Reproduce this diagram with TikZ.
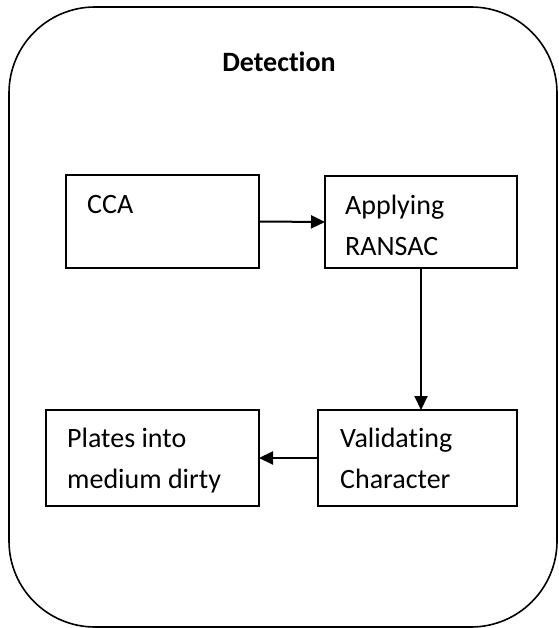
\documentclass[tikz,border=0pt]{standalone}
\usepackage{fontspec}
\setmainfont{Carlito}[Ligatures=NoCommon]
\usetikzlibrary{arrows.meta}
\tikzset{
  box/.style={draw, line width=2pt, inner sep=0pt, outer sep=0pt},
  label text/.style={inner sep=0pt, anchor=base west, align=left,
    font=\fontsize{28}{41}\selectfont},
  flow/.style={line width=2pt, -{Triangle[length=14pt,width=13pt]}},
}
\begin{document}
\begin{tikzpicture}[x=1pt,y=-1pt]
\useasboundingbox (0,0) rectangle (558,628);
% outer container
\draw[line width=1.6pt, rounded corners=86pt] (9,7) rectangle (557,627);
\node[font=\fontsize{28}{34}\selectfont\bfseries, inner sep=0pt, anchor=base] (title) at (279,72) {Detection};
% process boxes
\node[box, minimum width=193pt, minimum height=93pt] (cca) at (162.5,221.5) {};
\node[box, minimum width=192pt, minimum height=92pt] (ransac) at (421,222) {};
\node[box, minimum width=199pt, minimum height=96pt] (valid) at (417.5,458) {};
\node[box, minimum width=213pt, minimum height=96pt] (plates) at (152.5,458) {};
% box texts (anchored at the baseline of their last line)
\node[label text] (ccat) at (87,214) {CCA};
\node[label text] (ransact) at (345,255) {Applying\\RANSAC};
\node[label text] (validt) at (340,488) {Validating\\Character};
\node[label text] (platest) at (67,488) {Plates into\\medium dirty};
% connectors
\draw[flow] (cca.east) -- (ransac.west);
\draw[flow] (ransac.south) -- (ransac.south |- valid.north);
\draw[flow] (valid.west) -- (plates.east);
\end{tikzpicture}
\end{document}
